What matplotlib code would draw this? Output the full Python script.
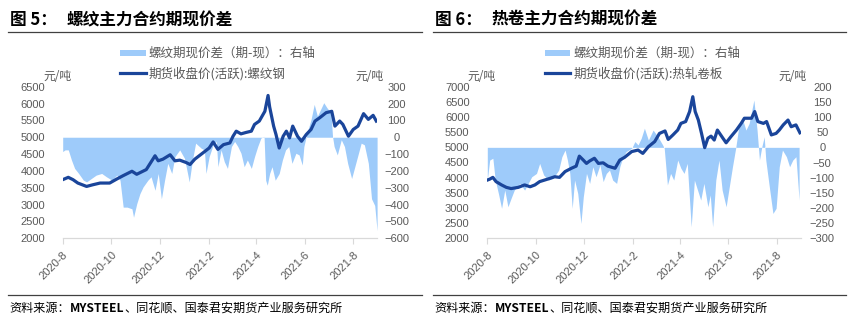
import pandas as pd
import numpy as np
import matplotlib
matplotlib.use('Agg')
import matplotlib.pyplot as plt
from matplotlib.patches import Rectangle
from matplotlib.lines import Line2D

plt.rcParams['font.family'] = ['Liberation Sans', 'Noto Sans CJK SC']
plt.rcParams['axes.unicode_minus'] = True

CJK = ['Noto Sans CJK SC', 'DejaVu Sans']
LINE_COLOR = '#1A459A'
FILL_COLOR = '#9ECBFA'
TEXT_GRAY = '#595959'

# ---- rebar (螺纹) ----
rb_price_dates = [
    "2020-08-01", "2020-08-08", "2020-08-14", "2020-08-20", "2020-08-31", "2020-09-08", "2020-09-17",
    "2020-09-29", "2020-10-08", "2020-10-16", "2020-10-27", "2020-11-02", "2020-11-14", "2020-11-25",
    "2020-11-29", "2020-12-05", "2020-12-14", "2020-12-20", "2020-12-26", "2021-01-03", "2021-01-08",
    "2021-01-14", "2021-01-25", "2021-02-01", "2021-02-06", "2021-02-12", "2021-02-19", "2021-02-27",
    "2021-03-03", "2021-03-07", "2021-03-13", "2021-03-19", "2021-03-26", "2021-03-30", "2021-04-05",
    "2021-04-12", "2021-04-16", "2021-04-18", "2021-04-23", "2021-04-26", "2021-04-30", "2021-05-05",
    "2021-05-09", "2021-05-13", "2021-05-17", "2021-05-23", "2021-05-28", "2021-06-03", "2021-06-09",
    "2021-06-14", "2021-06-20", "2021-06-28", "2021-07-05", "2021-07-09", "2021-07-15", "2021-07-19",
    "2021-07-26", "2021-08-01", "2021-08-07", "2021-08-14", "2021-08-20", "2021-08-26", "2021-08-30"]
rb_price = [
    3740, 3810, 3740, 3640, 3540, 3590, 3640, 3640, 3760, 3860, 3990, 3900, 4040, 4450, 4300, 4350,
    4480, 4300, 4320, 4250, 4190, 4350, 4550, 4680, 4860, 4640, 4780, 4830, 5030, 5180, 5100, 5140,
    5180, 5380, 5480, 5770, 6240, 5900, 5330, 5080, 4680, 5030, 5180, 4980, 5330, 5030, 4880, 5080,
    5230, 5480, 5580, 5730, 5770, 5330, 5480, 5380, 5030, 5230, 5330, 5700, 5530, 5650, 5480]

rb_basis_dates = [
    "2020-08-01", "2020-08-04", "2020-08-08", "2020-08-12", "2020-08-16", "2020-08-21", "2020-08-27",
    "2020-08-31", "2020-09-06", "2020-09-12", "2020-09-19", "2020-09-25", "2020-10-02", "2020-10-08",
    "2020-10-12", "2020-10-16", "2020-10-21", "2020-10-27", "2020-10-29", "2020-11-02", "2020-11-06",
    "2020-11-10", "2020-11-16", "2020-11-20", "2020-11-25", "2020-11-29", "2020-12-03", "2020-12-07",
    "2020-12-11", "2020-12-16", "2020-12-20", "2020-12-26", "2021-01-01", "2021-01-07", "2021-01-11",
    "2021-01-15", "2021-01-22", "2021-01-26", "2021-01-28", "2021-02-01", "2021-02-06", "2021-02-10",
    "2021-02-12", "2021-02-16", "2021-02-20", "2021-02-24", "2021-03-01", "2021-03-05", "2021-03-09",
    "2021-03-13", "2021-03-17", "2021-03-21", "2021-03-26", "2021-03-30", "2021-04-03", "2021-04-07",
    "2021-04-11", "2021-04-13", "2021-04-15", "2021-04-18", "2021-04-21", "2021-04-25", "2021-04-30",
    "2021-05-04", "2021-05-08", "2021-05-12", "2021-05-16", "2021-05-21", "2021-05-25", "2021-05-29",
    "2021-05-31", "2021-06-04", "2021-06-09", "2021-06-13", "2021-06-17", "2021-06-21", "2021-06-25",
    "2021-06-29", "2021-07-04", "2021-07-06", "2021-07-08", "2021-07-12", "2021-07-17", "2021-07-21",
    "2021-07-25", "2021-07-30", "2021-08-03", "2021-08-07", "2021-08-11", "2021-08-15", "2021-08-20",
    "2021-08-24", "2021-08-28", "2021-08-31"]
rb_basis = [
    -85, -75, -75, -135, -185, -215, -255, -265, -245, -225, -215, -235, -255, -225, -255, -415,
    -415, -425, -475, -395, -335, -295, -255, -235, -315, -215, -365, -255, -155, -215, -115, -75,
    -125, -265, -135, -35, -65, -75, -215, -115, -45, -25, -175, -75, -145, -185, -55, -25,
    -55, -95, -175, -135, -185, -115, -55, -5, 5, -255, -285, -215, -175, -255, -215, -135,
    -75, -55, -155, -95, -105, -165, -55, 25, 105, 195, 125, 165, 205, 175, 145, 5,
    -55, -105, -15, -55, -155, -245, -175, -105, -35, -45, -155, -365, -405, -555]

# ---- hot coil (热卷) ----
hc_price_dates = [
    "2020-08-01", "2020-08-04", "2020-08-08", "2020-08-12", "2020-08-19", "2020-08-25", "2020-08-31",
    "2020-09-09", "2020-09-17", "2020-09-24", "2020-09-30", "2020-10-06", "2020-10-17", "2020-10-25",
    "2020-10-31", "2020-11-07", "2020-11-15", "2020-11-21", "2020-11-25", "2020-11-30", "2020-12-04",
    "2020-12-08", "2020-12-14", "2020-12-19", "2020-12-25", "2020-12-31", "2021-01-09", "2021-01-15",
    "2021-01-21", "2021-01-30", "2021-02-07", "2021-02-13", "2021-02-20", "2021-02-28", "2021-03-06",
    "2021-03-13", "2021-03-17", "2021-03-23", "2021-03-29", "2021-04-02", "2021-04-08", "2021-04-13",
    "2021-04-17", "2021-04-20", "2021-04-24", "2021-04-28", "2021-05-02", "2021-05-06", "2021-05-10",
    "2021-05-14", "2021-05-18", "2021-05-25", "2021-05-29", "2021-06-04", "2021-06-11", "2021-06-17",
    "2021-06-21", "2021-06-30", "2021-07-04", "2021-07-08", "2021-07-15", "2021-07-19", "2021-07-25",
    "2021-07-31", "2021-08-04", "2021-08-09", "2021-08-15", "2021-08-19", "2021-08-25", "2021-08-30"]
hc_price = [
    3920, 3950, 4010, 3870, 3760, 3680, 3640, 3680, 3760, 3700, 3760, 3870, 3960, 4030, 4010, 4200,
    4310, 4380, 4710, 4580, 4470, 4550, 4640, 4470, 4490, 4380, 4310, 4580, 4670, 4860, 4910, 4800,
    5020, 5190, 5460, 5540, 5260, 5410, 5570, 5790, 5850, 6180, 6670, 6180, 5900, 5460, 4990, 5300,
    5370, 5240, 5570, 5300, 5150, 5350, 5570, 5790, 5960, 5960, 6180, 5850, 5790, 5850, 5410, 5460,
    5570, 5740, 5900, 5680, 5740, 5480]

hc_basis_dates = [
    "2020-08-01", "2020-08-04", "2020-08-08", "2020-08-11", "2020-08-15", "2020-08-19", "2020-08-23",
    "2020-08-27", "2020-08-31", "2020-09-04", "2020-09-11", "2020-09-17", "2020-09-26", "2020-10-02",
    "2020-10-06", "2020-10-11", "2020-10-17", "2020-10-23", "2020-10-30", "2020-11-03", "2020-11-07",
    "2020-11-10", "2020-11-13", "2020-11-16", "2020-11-19", "2020-11-23", "2020-11-27", "2020-11-30",
    "2020-12-04", "2020-12-08", "2020-12-12", "2020-12-16", "2020-12-21", "2020-12-25", "2020-12-29",
    "2021-01-02", "2021-01-06", "2021-01-11", "2021-01-15", "2021-01-19", "2021-01-23", "2021-01-30",
    "2021-02-03", "2021-02-07", "2021-02-11", "2021-02-15", "2021-02-20", "2021-02-26", "2021-03-04",
    "2021-03-10", "2021-03-12", "2021-03-16", "2021-03-20", "2021-03-24", "2021-03-29", "2021-04-02",
    "2021-04-06", "2021-04-10", "2021-04-15", "2021-04-19", "2021-04-23", "2021-04-27", "2021-05-01",
    "2021-05-06", "2021-05-09", "2021-05-12", "2021-05-16", "2021-05-20", "2021-05-24", "2021-05-29",
    "2021-06-02", "2021-06-06", "2021-06-10", "2021-06-14", "2021-06-19", "2021-06-23", "2021-06-27",
    "2021-07-03", "2021-07-07", "2021-07-10", "2021-07-13", "2021-07-16", "2021-07-18", "2021-07-23",
    "2021-07-27", "2021-07-31", "2021-08-04", "2021-08-08", "2021-08-13", "2021-08-17", "2021-08-21",
    "2021-08-25", "2021-08-29"]
hc_basis = [
    -108, -42, -36, -108, -152, -201, -141, -196, -168, -141, -119, -141, -97, -86, -53, -91,
    -108, -102, -75, -31, -9, -42, -86, -201, -108, -152, -251, -163, -86, -119, -64, -97,
    -58, -113, -86, -75, -108, -119, -64, -31, -14, -3, 19, 8, 30, 63, 24, 57,
    35, 8, -3, -124, -86, -108, -42, -69, -86, -53, -262, -108, -141, -174, -119, -196,
    -157, -262, -108, -42, -141, -196, -130, -64, -3, 68, 90, 57, 79, 156, 57, -42,
    2, 35, -42, -141, -218, -201, -64, -9, -31, -64, -42, -31, -174]

tick_dates = ["2020-08-01", "2020-10-01", "2020-12-01", "2021-02-01", "2021-04-01", "2021-06-01", "2021-08-01"]
tick_labels = ["2020-8", "2020-10", "2020-12", "2021-2", "2021-4", "2021-6", "2021-8"]

W, H = 855, 322
fig = plt.figure(figsize=(W / 100, H / 100), dpi=100)
fig.patch.set_facecolor('white')


def fx(px):
    return px / W


def fy(py):
    return 1 - py / H


def draw_panel(x0, x1, p_dates, price, b_dates, basis, left_ticks, right_ticks,
               fig_no, title, line_label, right_pad):
    ax = fig.add_axes([fx(x0), fy(238.3), (x1 - x0) / W, 151.6 / H])
    ax2 = ax.twinx()
    ax2.fill_between(pd.to_datetime(b_dates), basis, 0, color=FILL_COLOR, linewidth=0)
    ax.plot(pd.to_datetime(p_dates), price, color=LINE_COLOR, lw=2.3, solid_joinstyle='round')
    ax.set_zorder(ax2.get_zorder() + 1)
    ax.patch.set_visible(False)

    ax.set_xlim(pd.Timestamp("2020-08-01"), pd.Timestamp("2021-08-31"))
    ax.set_ylim(left_ticks[0], left_ticks[-1])
    ax2.set_ylim(right_ticks[0], right_ticks[-1])
    ax.set_yticks(left_ticks)
    ax2.set_yticks(right_ticks)
    ax.set_xticks(pd.to_datetime(tick_dates))
    ax.set_xticklabels(tick_labels)

    for a in (ax, ax2):
        for s in ('top', 'left', 'right'):
            a.spines[s].set_visible(False)
    ax2.spines['bottom'].set_visible(False)
    ax.spines['bottom'].set_color('#D9D9D9')
    ax.spines['bottom'].set_linewidth(0.9)

    ax.tick_params(axis='x', direction='out', length=4, width=0.8, color='#D9D9D9',
                   labelsize=8, labelcolor=TEXT_GRAY, pad=4)
    ax.tick_params(axis='y', length=0, labelsize=8, labelcolor=TEXT_GRAY, pad=12.8)
    ax2.tick_params(axis='y', length=0, labelsize=8, labelcolor=TEXT_GRAY, pad=right_pad)
    plt.setp(ax.get_xticklabels(), rotation=45, ha='right', va='top', rotation_mode='anchor')
    plt.setp(ax2.get_yticklabels(), ha='center')

    # titles and frame lines
    px0 = x0 - 54.5
    px1 = px0 + 413.5
    fig.text(fx(px0 + 2), fy(25), fig_no, family=CJK, fontsize=12, fontweight='bold',
             color='black', va='baseline')
    fig.text(fx(px0 + 58.5), fy(25), title, family=CJK, fontsize=12, fontweight='bold',
             color='black', va='baseline')
    fig.add_artist(Line2D([fx(px0), fx(px1)], [fy(31.5), fy(31.5)], color='#404040', lw=0.9))
    fig.add_artist(Line2D([fx(px0), fx(px1)], [fy(295), fy(295)], color='#404040', lw=0.9))
    s1 = fig.text(fx(px0 + 1.5), fy(312), "资料来源：", family=CJK, fontsize=8.7,
                  color='black', va='baseline')
    s2 = ax.annotate("MYSTEEL", xy=(1, 0), xycoords=s1, family=CJK, fontsize=8.7,
                     fontweight='bold', color='black', va='bottom', ha='left', annotation_clip=False)
    ax.annotate("、同花顺、国泰君安期货产业服务研究所", xy=(1, 0), xycoords=s2, family=CJK,
                fontsize=8.7, color='black', va='bottom', ha='left', annotation_clip=False)

    # legend
    lx = px0 + 112
    fig.add_artist(Rectangle((fx(lx), fy(56)), 25.5 / W, 6.5 / H, transform=fig.transFigure,
                             facecolor=FILL_COLOR, edgecolor='none'))
    fig.add_artist(Line2D([fx(lx), fx(lx + 25.5)], [fy(73), fy(73)], color=LINE_COLOR, lw=2.3))
    fig.text(fx(lx + 28.5), fy(53.3), "螺纹期现价差（期-现）：右轴", family=CJK, fontsize=9,
             color=TEXT_GRAY, va='center')
    fig.text(fx(lx + 28.5), fy(73.3), line_label, family=CJK, fontsize=9,
             color=TEXT_GRAY, va='center')

    # units
    fig.text(fx(x0 - 5.5), fy(76), "元/吨", family=CJK, fontsize=8.5, color=TEXT_GRAY,
             ha='center', va='center')
    fig.text(fx(x1 - 8), fy(76), "元/吨", family=CJK, fontsize=8.5, color=TEXT_GRAY,
             ha='center', va='center')
    return ax, ax2


draw_panel(62.7, 377.1, rb_price_dates, rb_price, rb_basis_dates, rb_basis,
           list(range(2000, 6501, 500)), list(range(-600, 301, 100)),
           "图 5：", "螺纹主力合约期现价差", "期货收盘价(活跃):螺纹钢", 14)
draw_panel(487.3, 800.7, hc_price_dates, hc_price, hc_basis_dates, hc_basis,
           list(range(2000, 7001, 500)), list(range(-300, 201, 50)),
           "图 6：", "热卷主力合约期现价差", "期货收盘价(活跃):热轧卷板", 15.5)

fig.savefig('out.png', dpi=100, facecolor='white')
